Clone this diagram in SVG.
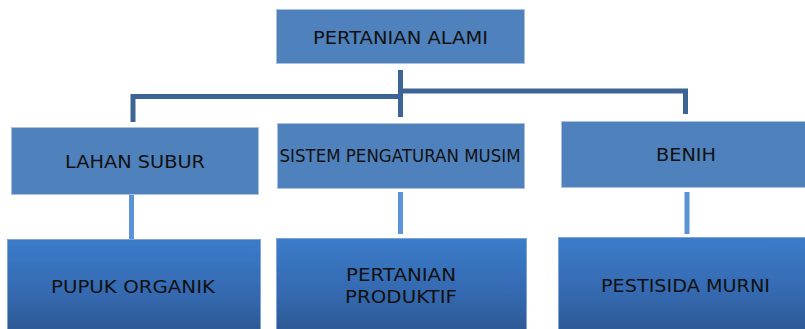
<svg xmlns="http://www.w3.org/2000/svg" width="805" height="329" viewBox="0 0 805 329">
<defs>
<linearGradient id="g3" x1="0" y1="0" x2="0" y2="1">
<stop offset="0" stop-color="#3b7cc9"/>
<stop offset="0.6" stop-color="#3569b0"/>
<stop offset="1" stop-color="#2e5a95"/>
</linearGradient>
<style>
.b1{fill:#4f81bd;stroke:#a9c0df;stroke-width:1}
.b3{fill:url(#g3);stroke:#7fa3d6;stroke-width:1}
.t{font-family:"DejaVu Sans","Liberation Sans",sans-serif;font-size:18px;fill:#111;text-anchor:start}
.c1{stroke:#3c6494;stroke-width:5;fill:none}
.c2{stroke:#5b93d8;stroke-width:5;fill:none}
</style>
</defs>
<rect width="805" height="329" fill="#fff"/>
<g id="connectors">
<path class="c1" d="M400.5 70 V117"/>
<path class="c1" d="M133 122 V96.5 H400.5"/>
<path class="c1" d="M400.5 91 H685.5 V114"/>
<path class="c2" d="M131.5 195 V239"/>
<path class="c2" d="M400.5 192 V234"/>
<path class="c2" d="M687 192 V234"/>
</g>
<g id="n-root">
<rect class="b1" x="276.5" y="9.5" width="248" height="54"/>
<text class="t" x="313" y="43.5" textLength="175" lengthAdjust="spacingAndGlyphs">PERTANIAN ALAMI</text>
</g>
<g id="n-lahan">
<rect class="b1" x="11.5" y="127.5" width="247" height="67"/>
<text class="t" x="65" y="168" textLength="140" lengthAdjust="spacingAndGlyphs">LAHAN SUBUR</text>
</g>
<g id="n-sistem">
<rect class="b1" x="277.5" y="123.5" width="247" height="65"/>
<text class="t" x="279.5" y="161.5" textLength="241" lengthAdjust="spacingAndGlyphs" style="font-size:17px">SISTEM PENGATURAN MUSIM</text>
</g>
<g id="n-benih">
<rect class="b1" x="561.5" y="121.5" width="244" height="66"/>
<text class="t" x="656" y="161" textLength="60" lengthAdjust="spacingAndGlyphs">BENIH</text>
</g>
<g id="n-pupuk">
<rect class="b3" x="7.5" y="239.5" width="253" height="90"/>
<text class="t" x="51" y="292.5" textLength="164" lengthAdjust="spacingAndGlyphs">PUPUK ORGANIK</text>
</g>
<g id="n-produktif">
<rect class="b3" x="276.5" y="238.5" width="250" height="91"/>
<text class="t" x="346" y="281" textLength="110" lengthAdjust="spacingAndGlyphs">PERTANIAN</text>
<text class="t" x="345" y="302.5" textLength="112" lengthAdjust="spacingAndGlyphs">PRODUKTIF</text>
</g>
<g id="n-pestisida">
<rect class="b3" x="558.5" y="237.5" width="247" height="92"/>
<text class="t" x="601" y="292" textLength="169" lengthAdjust="spacingAndGlyphs">PESTISIDA MURNI</text>
</g>
</svg>
